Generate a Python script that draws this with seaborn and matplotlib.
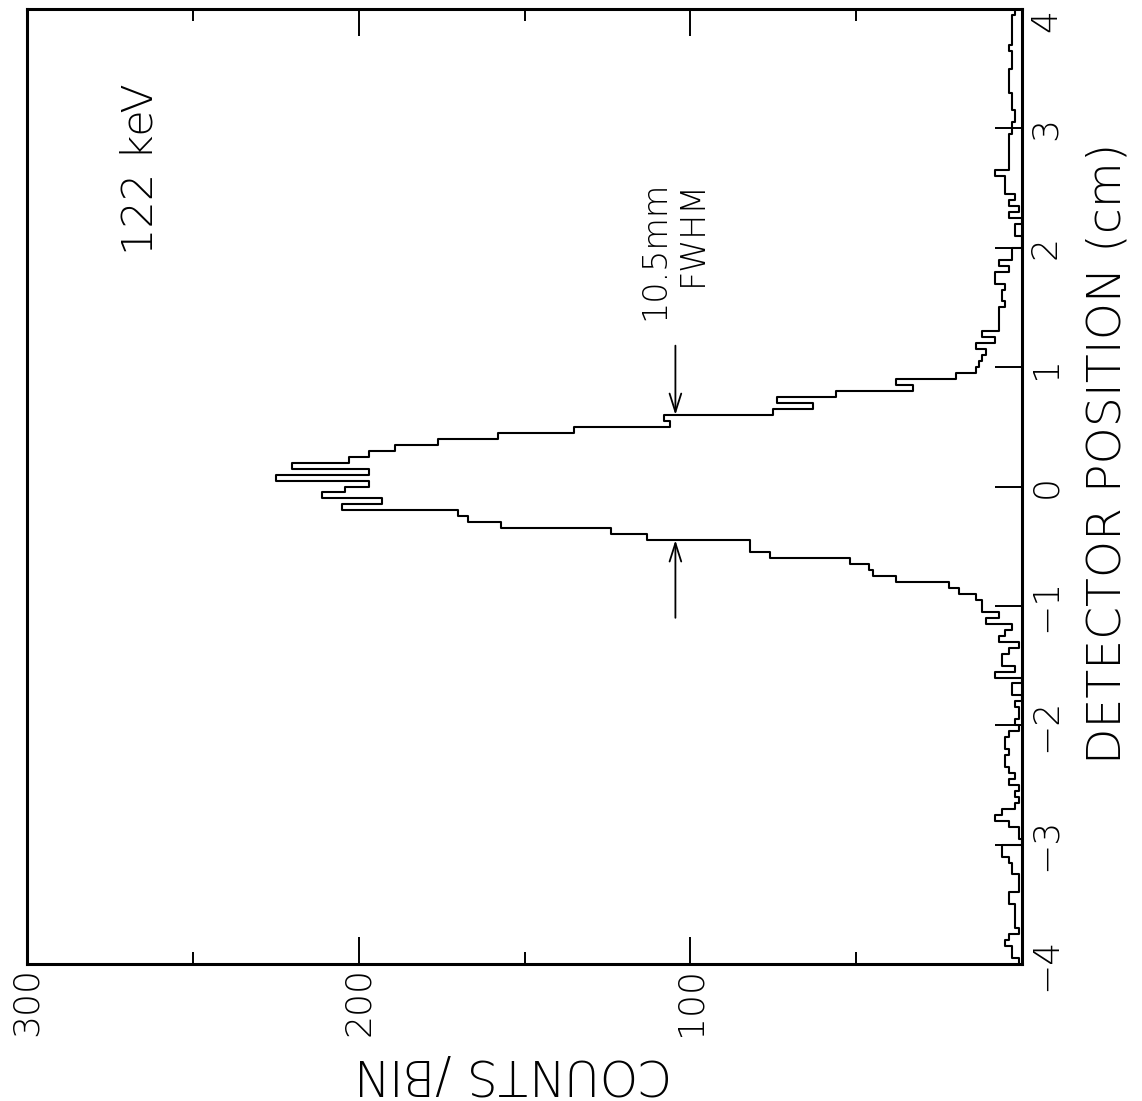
import numpy as np
import pandas as pd
import matplotlib
matplotlib.use("Agg")
import matplotlib.pyplot as plt
import seaborn as sns

# Detector position histogram, 122 keV line, 0.05 cm bins from -4 to +4 cm
pos_min, pos_max = -4.0, 4.0

# counts per bin, listed from -4 cm upward
counts_m4_m3 = [1, 3, 3, 5, 4, 1, 2, 2, 2, 2, 4, 4, 1, 1, 1, 3, 3, 4, 6, 6]
counts_m3_m25 = [0, 1, 1, 4, 8, 6, 2, 1, 2, 1]
counts_m25_m2 = [4, 2, 4, 5, 5, 4, 5, 5, 4, 1]
counts_m2_m1 = [2, 1, 1, 2, 0, 3, 3, 0, 8, 2, 6, 6, 4, 1, 7, 5, 3, 11, 7, 12]
counts_lower_flank = [12, 14, 19, 22, 38, 45, 46, 52, 76, 82, 82, 113, 124, 157, 167]
counts_peak = [170, 205, 193, 211, 204, 197, 225, 197, 220, 203, 197, 189]
counts_upper_flank = [176, 158, 135, 106, 108, 75, 63, 74, 56, 33, 38, 20, 14]
counts_1_2 = [13, 12, 11, 14, 8, 12, 7, 7, 7, 7, 5, 6, 6, 5, 8, 8, 4, 7, 3, 3]
counts_2_3 = [0, 0, 2, 2, 0, 4, 1, 4, 2, 5, 5, 5, 8, 4, 4, 4, 4, 4, 4, 3]
counts_3_4 = [3, 2, 2, 3, 3, 3, 4, 4, 4, 4, 3, 3, 3, 4, 3, 3, 3, 3, 3, 2]

counts = np.array(counts_m4_m3 + counts_m3_m25 + counts_m25_m2 + counts_m2_m1
                  + counts_lower_flank + counts_peak + counts_upper_flank
                  + counts_1_2 + counts_2_3 + counts_3_4, dtype=float)
n_bins = len(counts)
edges = np.linspace(pos_min, pos_max, n_bins + 1)
centers = 0.5 * (edges[:-1] + edges[1:])

count_ticks = [100, 200, 300]
count_minor = [50, 150, 250]
pos_ticks = list(range(-4, 5))

# FWHM markers: counts level of the arrows and the two half-maximum edges
fwhm_level = 104.5
fwhm_edges = (-0.45, 0.60)

df = pd.DataFrame({"position": centers, "counts": counts})

sns.set_theme(style="white")
plt.rcParams["font.family"] = ["DejaVu Sans"]
plt.rcParams["font.weight"] = "light"
plt.rcParams["axes.labelweight"] = "light"
plt.rcParams["axes.unicode_minus"] = True
for key in ("text.color", "axes.labelcolor", "xtick.color", "ytick.color",
            "axes.edgecolor"):
    plt.rcParams[key] = "black"

fig = plt.figure(figsize=(11.42, 11.01), dpi=100)
ax = fig.add_axes([27 / 1142, 137 / 1101, 995 / 1142, 955 / 1101])

sns.histplot(data=df, y="position", weights="counts", bins=n_bins,
             binrange=(pos_min, pos_max), element="step", fill=False,
             color="black", linewidth=1.5, ax=ax)

ax.set_xlim(300, 0)
ax.set_ylim(pos_min, pos_max)

for sp in ax.spines.values():
    sp.set_visible(True)
    sp.set_color("black")
    sp.set_linewidth(2.2)

# counts axis (horizontal on the page)
ax.set_xticks(count_ticks)
ax.set_xticklabels([str(v) for v in count_ticks])
ax.set_xticks(count_minor, minor=True)
ax.tick_params(axis="x", which="both", direction="in", top=True, bottom=True,
               labelbottom=True, labeltop=False, color="black", width=1.4)
ax.tick_params(axis="x", which="major", length=19.5, labelsize=26,
               labelrotation=90, pad=2, labelcolor="black")
ax.tick_params(axis="x", which="minor", length=8.6)

# position axis (vertical on the page), ticks and labels on the right
ax.set_yticks(pos_ticks)
ax.set_yticklabels([f"{v}".replace("-", "\u2212") for v in pos_ticks])
ax.tick_params(axis="y", which="major", direction="in", left=False, right=True,
               labelleft=False, labelright=True, length=19.5, width=1.4,
               color="black", labelsize=26, labelrotation=90, pad=5,
               labelcolor="black")
for t in ax.get_yticklabels():
    t.set_verticalalignment("center")
ax.get_yticklabels()[-1].set_verticalalignment("top")

ax.set_xlabel("COUNTS /BIN", fontsize=35, rotation=180, color="black",
              fontweight="light")
ax.xaxis.label.set_horizontalalignment("center")
ax.xaxis.label.set_verticalalignment("center")
ax.xaxis.set_label_coords(0.4874, -0.1141)

ax.yaxis.set_label_position("right")
ax.set_ylabel("DETECTOR POSITION (cm)", fontsize=34, rotation=90,
              color="black", fontweight="light")
ax.yaxis.label.set_horizontalalignment("center")
ax.yaxis.label.set_verticalalignment("center")
ax.yaxis.set_label_coords(1.0864, 0.535)

ax.text(0.1136, 0.8325, "122 keV", transform=ax.transAxes, rotation=90,
        fontsize=31, ha="center", va="center", color="black")
ax.text(0.6497, 0.7476, "10.5mm\nFWHM", transform=ax.transAxes, rotation=90,
        fontsize=24, ha="center", va="center", multialignment="right",
        linespacing=1.2, color="black")

arrow_style = "->,head_length=1.1,head_width=0.35"
ax.annotate("", xy=(fwhm_level, fwhm_edges[1]), xytext=(fwhm_level, 1.18),
            arrowprops=dict(arrowstyle=arrow_style, lw=1.3, color="black",
                            shrinkA=0, shrinkB=0))
ax.annotate("", xy=(fwhm_level, fwhm_edges[0]), xytext=(fwhm_level, -1.10),
            arrowprops=dict(arrowstyle=arrow_style, lw=1.3, color="black",
                            shrinkA=0, shrinkB=0))

ax.grid(False)
fig.savefig("out.png", dpi=100, facecolor="white")
